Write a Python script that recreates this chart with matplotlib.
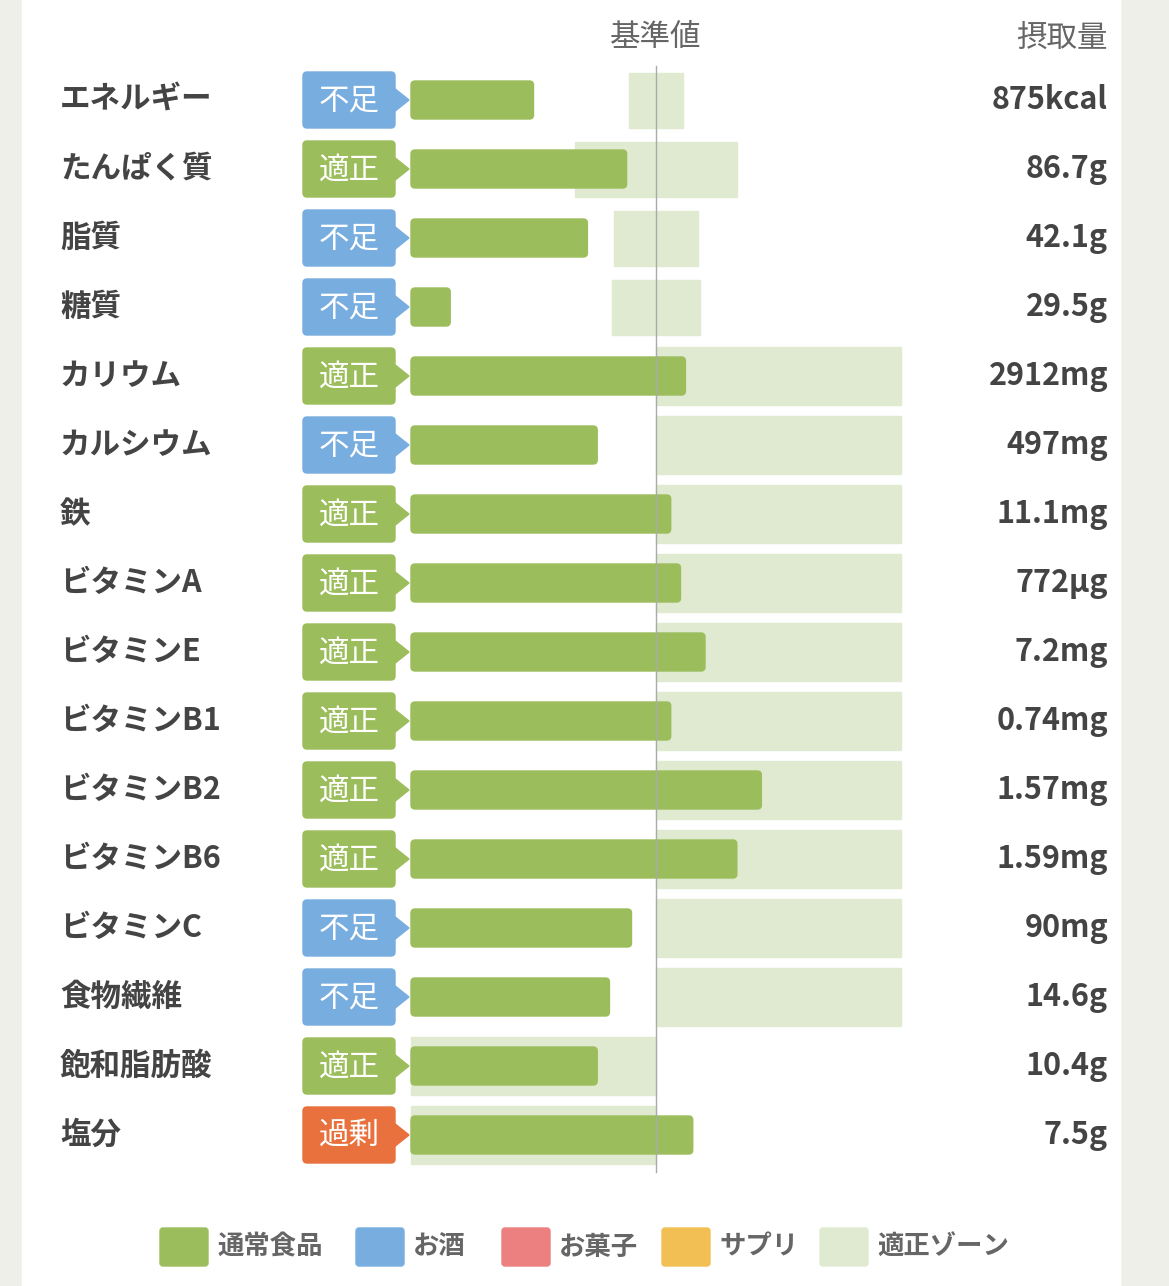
import matplotlib.pyplot as plt
from matplotlib.patches import FancyBboxPatch, Rectangle, Polygon

plt.rcParams['font.family'] = ['Noto Sans CJK JP', 'DejaVu Sans']

nutrients = ['エネルギー', 'たんぱく質', '脂質', '糖質', 'カリウム', 'カルシウム', '鉄',
             'ビタミンA', 'ビタミンE', 'ビタミンB1', 'ビタミンB2', 'ビタミンB6',
             'ビタミンC', '食物繊維', '飽和脂肪酸', '塩分']
status = ['不足', '適正', '不足', '不足', '適正', '不足', '適正', '適正', '適正', '適正',
          '適正', '適正', '不足', '不足', '適正', '過剰']
amounts = ['875kcal', '86.7g', '42.1g', '29.5g', '2912mg', '497mg', '11.1mg', '772µg',
           '7.2mg', '0.74mg', '1.57mg', '1.59mg', '90mg', '14.6g', '10.4g', '7.5g']
# intake relative to reference value (1.0 = 基準値)
intake = [0.50, 0.88, 0.72, 0.16, 1.12, 0.76, 1.06, 1.10, 1.20, 1.06, 1.43, 1.33,
          0.90, 0.81, 0.76, 1.15]
zone_lo = [0.89, 0.67, 0.83, 0.82, 1.0, 1.0, 1.0, 1.0, 1.0, 1.0, 1.0, 1.0, 1.0, 1.0, 0.0, 0.0]
zone_hi = [1.11, 1.33, 1.17, 1.18, 2.0, 2.0, 2.0, 2.0, 2.0, 2.0, 2.0, 2.0, 2.0, 2.0, 1.0, 1.0]
legend_labels = ['通常食品', 'お酒', 'お菓子', 'サプリ', '適正ゾーン']
legend_colors = ['#9cbd5c', '#78ade0', '#ec8080', '#f2bf55', '#dfead0']

badge_colors = {'不足': '#78ade0', '適正': '#9cbd5c', '過剰': '#e8713d'}
bar_color = '#9cbd5c'
zone_color = '#dfead0'
text_color = '#444444'

W, H = 1169, 1286
fig = plt.figure(figsize=(W / 100, H / 100), dpi=100)
fig.patch.set_facecolor('#efefea')
ax = fig.add_axes([0, 0, 1, 1])
ax.set_xlim(0, W)
ax.set_ylim(H, 0)
ax.axis('off')
ax.add_patch(Rectangle((22, 0), 1098, H, color='white', zorder=0))

x0, xref = 411, 656
scale = xref - x0
row0, step = 100, 69

for i, name in enumerate(nutrients):
    y = row0 + i * step
    zh = 55 if zone_lo[i] > 0.5 and zone_hi[i] < 1.5 else 58
    ax.add_patch(Rectangle((x0 + zone_lo[i] * scale, y - zh / 2),
                           (zone_hi[i] - zone_lo[i]) * scale, zh,
                           color=zone_color, zorder=1))
    ax.add_patch(FancyBboxPatch((x0, y - 19), intake[i] * scale, 38,
                                boxstyle='round,pad=0,rounding_size=4',
                                color=bar_color, zorder=2))
    c = badge_colors[status[i]]
    ax.add_patch(FancyBboxPatch((303, y - 28), 92, 56,
                                boxstyle='round,pad=0,rounding_size=4', color=c, zorder=2))
    ax.add_patch(Polygon([(394, y - 12), (409, y), (394, y + 12)], color=c, zorder=2))
    ax.text(349, y + 1, status[i], color='white', fontsize=22, ha='center', va='center', zorder=3)
    ax.text(60, y, name, color=text_color, fontsize=22, fontweight='bold', va='center')
    ax.text(1108, y, amounts[i], color=text_color, fontsize=22, fontweight='bold',
            va='center', ha='right')

ax.plot([xref, xref], [66, 1172], color='#aaaaaa', lw=1, zorder=4)
ax.text(xref, 38, '基準値', color='#666666', fontsize=22, ha='center', va='center')
ax.text(1108, 38, '摂取量', color='#666666', fontsize=22, ha='right', va='center')

lx = [160, 356, 502, 662, 820]
for x, lab, col in zip(lx, legend_labels, legend_colors):
    ax.add_patch(FancyBboxPatch((x, 1228), 48, 38, boxstyle='round,pad=0,rounding_size=3',
                                color=col))
    ax.text(x + 57, 1247, lab, color='#666666', fontsize=19, fontweight='bold', va='center')

fig.savefig('out.png', dpi=100, facecolor=fig.get_facecolor())
